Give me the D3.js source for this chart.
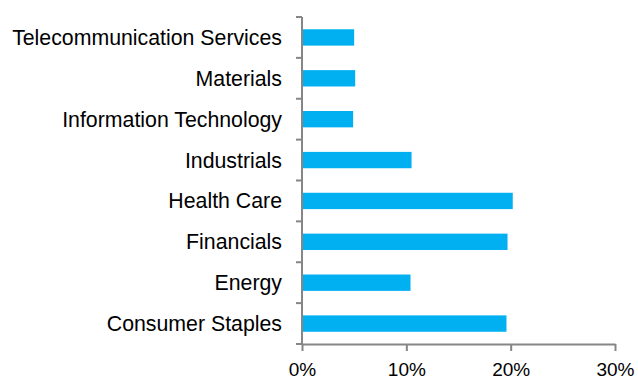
<!DOCTYPE html>
<html>
<head>
<meta charset="utf-8">
<script src="https://cdn.jsdelivr.net/npm/d3@7"></script>
<style>
  html, body { margin: 0; padding: 0; background: #fff; }
  svg { display: block; }
  .tick text { font-family: "Liberation Sans", Arial, sans-serif; fill: #000; }
</style>
</head>
<body>
<svg id="chart" width="638" height="379"></svg>
<script>
// Sector weights (%), listed top to bottom
const categories = [
  "Telecommunication Services",
  "Materials",
  "Information Technology",
  "Industrials",
  "Health Care",
  "Financials",
  "Energy",
  "Consumer Staples"
];
const weights = [5.0, 5.1, 4.9, 10.5, 20.2, 19.7, 10.4, 19.6];
const xTicks = [0, 10, 20, 30];

const svg = d3.select("#chart");
const margin = { top: 17, right: 23, bottom: 35, left: 302 };
const width = 638 - margin.left - margin.right;
const height = 379 - margin.top - margin.bottom;

const g = svg.append("g").attr("transform", `translate(${margin.left},${margin.top})`);

const x = d3.scaleLinear().domain([0, 30]).range([0, width]);
const y = d3.scaleBand().domain(categories).range([0, height]).paddingInner(0.6).paddingOuter(0.3);
const yBand = d3.scaleBand().domain(categories).range([0, height]);

const data = categories.map((c, i) => ({ name: c, value: weights[i] }));

// bars
g.selectAll("rect.bar")
  .data(data)
  .join("rect")
  .attr("class", "bar")
  .attr("x", x(0) + 1)
  .attr("y", d => y(d.name))
  .attr("width", d => x(d.value) - x(0) - 1)
  .attr("height", y.bandwidth())
  .attr("fill", "#00B0F0");

const axisColor = "#868686";

// y axis: ticks sit on category boundaries, labels centered in bands
const yAxisG = g.append("g");
yAxisG.append("line")
  .attr("x1", 0).attr("x2", 0)
  .attr("y1", 0).attr("y2", height)
  .attr("stroke", axisColor).attr("stroke-width", 2);
const boundaries = categories.map(c => yBand(c)).concat([height]);
yAxisG.selectAll("line.ytick")
  .data(boundaries)
  .join("line")
  .attr("class", "ytick")
  .attr("x1", -6).attr("x2", 0)
  .attr("y1", d => d).attr("y2", d => d)
  .attr("stroke", axisColor).attr("stroke-width", 2);
yAxisG.selectAll("text.ylabel")
  .data(categories)
  .join("text")
  .attr("class", "ylabel")
  .attr("x", -20)
  .attr("y", d => yBand(d) + yBand.bandwidth() / 2)
  .attr("dy", "0.35em")
  .attr("text-anchor", "end")
  .attr("font-family", "'Liberation Sans', Arial, sans-serif")
  .attr("font-size", 21.3)
  .attr("fill", "#000")
  .text(d => d);

// x axis
const xAxis = d3.axisBottom(x)
  .tickValues(xTicks)
  .tickFormat(d => d + "%")
  .tickSize(7)
  .tickPadding(12)
  .tickSizeOuter(0);
const xAxisG = g.append("g")
  .attr("transform", `translate(0,${height})`)
  .call(xAxis);
xAxisG.select(".domain").attr("stroke", axisColor).attr("stroke-width", 2);
xAxisG.selectAll(".tick line").attr("stroke", axisColor).attr("stroke-width", 2);
xAxisG.selectAll(".tick text").attr("font-size", 19);
</script>
</body>
</html>
